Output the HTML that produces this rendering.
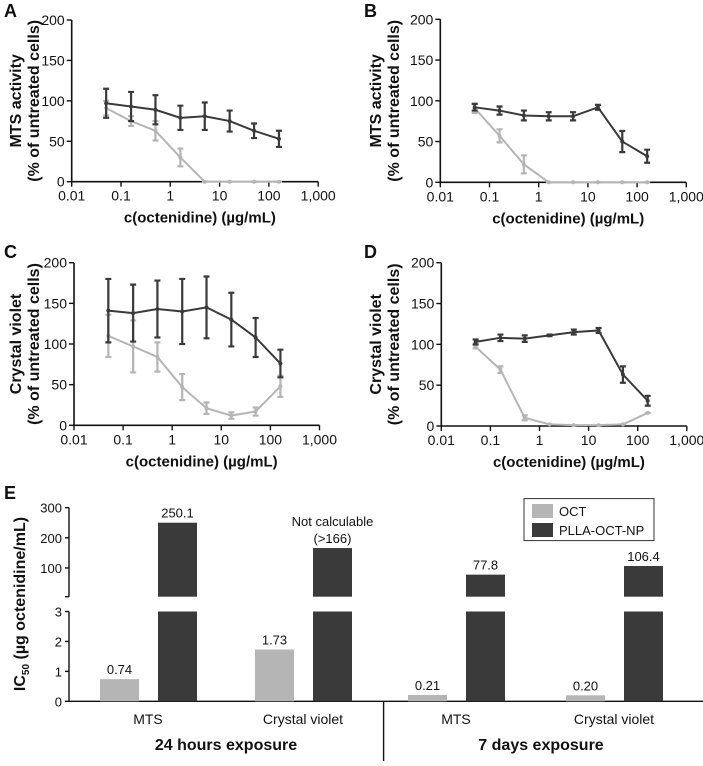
<!DOCTYPE html>
<html><head><meta charset="utf-8"><style>
html,body{margin:0;padding:0;background:#fff;}
svg text{font-family:"Liberation Sans",sans-serif;fill:#111;}
</style></head><body>
<svg id="fig" width="703" height="761" viewBox="0 0 703 761" xmlns="http://www.w3.org/2000/svg"></svg>
<script>
const xVals=[0.05,0.16,0.5,1.6,5,16,50,160];
const xTickLabels=["0.01","0.1","1","10","100","1,000"];
const yTickLabels=["0","50","100","150","200"];
const aDark=[97,93,89,79,81,75,63,53];
const aDarkErr=[18,18,18,15,17,13,9,10];
const aLight=[91,75,63,30,0,0,0,0];
const aLightErr=[9,6,12,11,0,0,0,0];
const bDark=[92,88,82,81,81,92,50,32];
const bDarkErr=[4,5,6,5,5,3,13,8];
const bLight=[91,57,22,0,0,0,0,0];
const bLightErr=[6,8,11,0,0,0,0,0];
const cDark=[141,138,143,140,145,130,108,76];
const cDarkErr=[39,35,35,40,38,33,24,17];
const cLight=[110,97,84,47,21,12,17,48];
const cLightErr=[26,32,18,16,7,4,5,13];
const dDark=[103,108,107,111,115,117,63,31];
const dDarkErr=[3,4,4,1,3,3,10,6];
const dLight=[97,69,10,2,1,1,2,16];
const dLightErr=[2,4,3,0,0,0,0,0];
// bar chart data
const barGroups=["MTS","Crystal violet","MTS","Crystal violet"];
const octVals=[0.74,1.73,0.21,0.20];
const octLabels=["0.74","1.73","0.21","0.20"];
const npVals=[250.1,166,77.8,106.4];
const npLabels=["250.1","Not calculable|(>166)","77.8","106.4"];
const lowTicks=[0,1,2,3];
const upTicks=[100,200,300];

const NS="http://www.w3.org/2000/svg";
const svg=document.getElementById('fig');
const DARK="#3a3a3a", LIGHT="#b5b5b5";
function mk(tag,attrs,parent){const e=document.createElementNS(NS,tag);for(const k in attrs)e.setAttribute(k,attrs[k]);(parent||svg).appendChild(e);return e;}
function txt(s,x,y,size,opts,parent){const e=mk('text',Object.assign({x:x,y:y,'font-size':size},opts||{}),parent);e.textContent=s;return e;}

function panel(cfg){
  const g=mk('g',{});
  
  
  const X=v=>cfg.x0+(Math.log10(v)+2)*cfg.dec;
  const Y=v=>cfg.y0-(v/200)*(cfg.y0-cfg.y200);
  const l=txt(cfg.letter,cfg.lx,cfg.ly,18,{'font-weight':'bold'},g);
  
  
  const ax=mk('path',{d:`M${cfg.x0},${cfg.y200}V${cfg.y0}H${cfg.x0+5*cfg.dec}`,stroke:'#111','stroke-width':1.6,fill:'none'},g);
  
  
  yTickLabels.forEach((s,i)=>{const v=i*50;mk('line',{x1:cfg.x0-5,x2:cfg.x0,y1:Y(v),y2:Y(v),stroke:'#111','stroke-width':1.4},g);
    const t=txt(s,cfg.x0-7,Y(v)+5,14,{'text-anchor':'end'},g);
    
    });
  xTickLabels.forEach((s,i)=>{const x=cfg.x0+i*cfg.dec;mk('line',{x1:x,x2:x,y1:cfg.y0,y2:cfg.y0+5,stroke:'#111','stroke-width':1.4},g);
    const t=txt(s,x,cfg.y0+19,14,{'text-anchor':'middle'},g);
    
    });
  const xt=txt('c(octenidine) (µg/mL)',cfg.x0+2.6*cfg.dec,cfg.y0+41,15,{'text-anchor':'middle','font-weight':'bold'},g);
  
  
  const cy=(cfg.y0+cfg.y200)/2;
  const yt1=txt(cfg.t1,0,0,16,{'text-anchor':'middle','font-weight':'bold',transform:`translate(${cfg.lx+17},${cy}) rotate(-90)`},g);
  
  
  const yt2=txt('(% of untreated cells)',0,0,16,{'text-anchor':'middle','font-weight':'bold',transform:`translate(${cfg.lx+35},${cy}) rotate(-90)`},g);
  
  
  [[cfg.light,cfg.lightErr,LIGHT,'oct'],[cfg.dark,cfg.darkErr,DARK,'plla-oct-np']].forEach(([vals,errs,col,nm])=>{
    const pts=vals.map((v,i)=>X(xVals[i])+','+Y(v)).join(' ');
    const pl=mk('polyline',{points:pts,fill:'none',stroke:col,'stroke-width':2},g);
    
    
    vals.forEach((v,i)=>{const x=X(xVals[i]);const e=errs[i];
      const eb=mk('path',{d:`M${x},${Y(v-e)}V${Y(v+e)}M${x-3},${Y(v-e)}h6M${x-3},${Y(v+e)}h6`,stroke:col,'stroke-width':2.2,fill:'none'},g);
      
      
      const c=mk('circle',{cx:x,cy:Y(v),r:2,fill:col},g);
      
      });
  });
}
panel({letter:'A',lx:4,ly:17,x0:71.7,y0:181.7,y200:20,dec:49.3,t1:'MTS activity',dark:aDark,darkErr:aDarkErr,light:aLight,lightErr:aLightErr});
panel({letter:'B',lx:364,ly:17,x0:440.3,y0:182.3,y200:19.3,dec:49.2,t1:'MTS activity',dark:bDark,darkErr:bDarkErr,light:bLight,lightErr:bLightErr});
panel({letter:'C',lx:4,ly:258,x0:74,y0:425.3,y200:262.7,dec:49.1,t1:'Crystal violet',dark:cDark,darkErr:cDarkErr,light:cLight,lightErr:cLightErr});
panel({letter:'D',lx:364,ly:258,x0:441.3,y0:426,y200:262.7,dec:49.1,t1:'Crystal violet',dark:dDark,darkErr:dDarkErr,light:dLight,lightErr:dLightErr});

(function(){
  const g=mk('g',{});
  
  
  const ax0=69;
  const YL=v=>701.3-v*29.93;
  const YU=v=>598.1-v*0.3015;
  const brk=596.7, lowTop=611.5;
  const e=txt('E',4,499,18,{'font-weight':'bold'},g);
  
  
  const ax=mk('path',{d:`M${ax0},${YU(300)}V${brk}M${ax0},${lowTop}V${YL(0)}H703M383.6,701.3V761`,stroke:'#111','stroke-width':1.4,fill:'none'},g);
  
  
  mk('line',{x1:ax0-4,x2:ax0,y1:brk,y2:brk,stroke:'#111','stroke-width':1.4},g);
  upTicks.forEach(v=>{mk('line',{x1:ax0-4,x2:ax0,y1:YU(v),y2:YU(v),stroke:'#111','stroke-width':1.4},g);
    const t=txt(String(v),ax0-7,YU(v)+5,13,{'text-anchor':'end'},g);
    
    });
  lowTicks.forEach(v=>{mk('line',{x1:ax0-4,x2:ax0,y1:YL(v),y2:YL(v),stroke:'#111','stroke-width':1.4},g);
    const t=txt(String(v),ax0-7,YL(v)+5,13,{'text-anchor':'end'},g);
    
    });
  const yt=mk('text',{x:0,y:0,'font-size':16,'font-weight':'bold','text-anchor':'middle',transform:'translate(25,604) rotate(-90)'},g);
  yt.innerHTML='IC<tspan font-size="10" dy="4">50</tspan><tspan dy="-4"> (µg octenidine/mL)</tspan>';
  
  
  const groupX=[148,303,456,614];
  const bw=39;
  barGroups.forEach((name,i)=>{
    const cx=groupX[i];
    const ox=cx-48, nx=cx+10;
    const ob=mk('rect',{x:ox,y:YL(octVals[i]),width:bw,height:YL(0)-YL(octVals[i]),fill:LIGHT},g);
    
    
    const ot=txt(octLabels[i],ox+bw/2,YL(octVals[i])-5,13,{'text-anchor':'middle'},g);
    
    
    const nl=mk('rect',{x:nx,y:lowTop,width:bw,height:YL(0)-lowTop,fill:DARK},g);
    
    
    const nu=mk('rect',{x:nx,y:YU(npVals[i]),width:bw,height:brk-YU(npVals[i]),fill:DARK},g);
    
    
    const parts=npLabels[i].split('|');
    parts.forEach((p,k)=>{const t=txt(p,nx+bw/2,YU(npVals[i])-5-(parts.length-1-k)*17,13,{'text-anchor':'middle'},g);
      
      });
    const cat=txt(name,cx,724,14,{'text-anchor':'middle'},g);
    
    
  });
  const g1=txt('24 hours exposure',226,750,16,{'text-anchor':'middle','font-weight':'bold'},g);
  
  
  const g2=txt('7 days exposure',541,750,16,{'text-anchor':'middle','font-weight':'bold'},g);
  
  
  const lg=mk('g',{},g);
  
  
  mk('rect',{x:524,y:498.6,width:130,height:42,fill:'#fff',stroke:'#333','stroke-width':1},lg);
  const s1=mk('rect',{x:532,y:504,width:21,height:14,fill:LIGHT},lg);
  
  
  const s2=mk('rect',{x:532,y:523,width:21,height:14,fill:DARK},lg);
  
  
  const l1=txt('OCT',559,516,13,{},lg);
  
  
  const l2=txt('PLLA-OCT-NP',559,535,13,{},lg);
  
  
})();
</script>
</body></html>
